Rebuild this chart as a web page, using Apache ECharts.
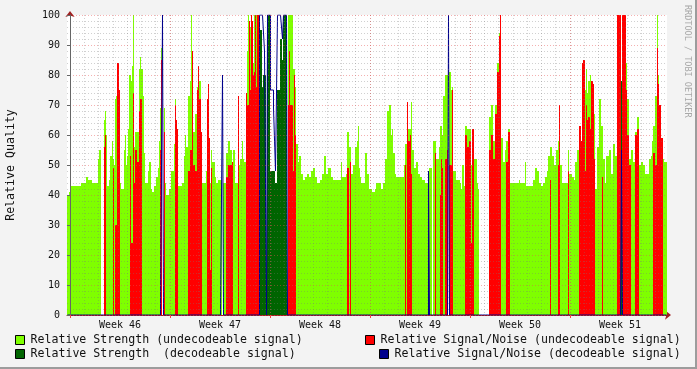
<!DOCTYPE html>
<html><head><meta charset="utf-8">
<script src="https://cdn.jsdelivr.net/npm/echarts@6/dist/echarts.min.js"></script>
<style>html,body{margin:0;padding:0;background:#f3f3f3;}#c{width:697px;height:369px;}</style>
</head><body><div id="c"></div>
<script>
// ---- data (one value per time step; run-length pairs [value, count]) ----
const weekLabels = ['Week 46','Week 47','Week 48','Week 49','Week 50','Week 51'];
const weekStarts = [0,100,200,300,400,500];          // time-axis units (1 unit = 1 step)
const weekMiddles = [50,150,250,350,450,550];
const stepsPerDay = 100/7;
const yTicks = [0,10,20,30,40,50,60,70,80,90,100];
const stepCount = 600;
const firstStepOffset = -3;                           // first step relative to Week 46 start

const strengthUndecodeable = [
[40,2],[41,2],[43,10],[44,5],[46,2],[45,4],[44,6],[52,1],[55,2],[0,3],
[65,1],[68,1],[60,1],[43,2],[45,1],[53,2],[58,1],[52,1],[50,1],[72,1],[73,1],[84,2],[75,1],[44,1],[42,3],
[55,1],[60,1],[50,1],[53,1],[62,1],[80,2],[78,1],[83,1],[100,1],[56,1],[61,4],[82,1],[86,1],[82,2],[73,1],[54,1],
[44,3],[48,1],[51,2],[42,1],[41,2],[43,2],[46,2],[49,1],[58,1],[69,1],[89,1],[0,2],
[69,1],[44,1],[40,3],[42,2],[48,3],[57,1],[72,1],[65,1],[62,1],[43,4],[44,2],[53,1],[60,1],[56,2],[73,2],[78,1],[100,1],[88,1],
[61,2],[67,2],[76,1],[83,1],[78,2],[57,1],[44,4],[48,1],[72,1],[77,1],[59,1],[44,1],[55,1],[51,3],[46,1],[44,2],[45,4],[0,1],
[44,3],[54,2],[58,2],[55,2],[45,1],[55,2],[44,3],[73,1],[50,1],[52,2],[58,1],[52,1],[51,2],[74,1],[88,1],[100,1],[60,1],
[96,1],[100,1],[96,1],[84,1],[100,5],
[0,29],
[100,5],[82,2],[76,1],[57,2],[51,1],[53,2],[47,2],[45,2],[46,2],[47,2],[46,2],[48,2],[49,2],[46,2],[44,3],[45,2],[47,2],[53,2],[47,2],[49,3],[46,2],[45,8],[51,1],[46,4],[47,1],
[61,2],[56,2],[47,2],[50,2],[56,2],[58,1],[63,1],[49,1],[46,1],[44,4],[54,2],[47,2],[42,3],[41,3],[42,1],[44,5],[42,2],[44,2],[52,2],[68,2],[70,2],[60,1],[62,1],[54,2],[47,1],[46,8],[50,1],[57,2],[71,1],[62,3],[71,1],[55,2],[49,2],[51,2],[47,2],[46,2],[45,3],[44,3],
[0,1],[49,3],[0,1],[58,3],[52,3],[56,1],[63,2],[60,1],[73,2],[80,3],[0,1],[81,2],[75,1],[76,1],[48,3],[45,4],[44,1],[42,1],[50,2],[43,1],[63,2],[62,4],[50,1],[52,5],[44,1],[42,1],[0,10],
[66,2],[70,2],[58,2],[70,2],[84,2],[94,2],[59,2],[51,2],[55,1],[58,2],[62,2],[44,9],[45,1],[44,5],[51,1],[43,7],[45,2],[49,2],[48,2],[44,2],[43,2],[44,2],[46,2],[48,1],[53,2],[56,2],[53,2],[50,2],[55,2],[58,2],[50,2],[44,6],[55,1],[47,3],[46,2],[45,1],[51,2],[55,2],[61,2],[58,1],[84,1],[79,2],[75,1],[82,1],[74,1],[78,2],[80,1],[78,2],[67,2],[42,2],[56,2],[72,2],[63,2],[52,2],[44,1],[53,3],[55,2],[47,2],[57,2],[53,2],[100,4],[0,1],[100,4],[84,1],[72,2],[52,2],[55,2],[51,2],[61,2],[66,2],[50,2],[51,2],[50,2],[47,4],[52,2],[53,1],[58,1],[63,2],[73,2],[100,1],[80,1],[70,2],[59,2],[52,1],[51,3]
];
const snrUndecodeable = [
[0,37],[56,1],[60,1],[0,7],[49,1],[0,1],[30,2],[84,2],[75,1],[0,10],[53,1],[24,2],[74,1],[44,1],[55,2],[51,2],[68,1],[72,2],[0,18],[55,1],[85,1],[0,2],[61,1],[0,10],[70,1],[65,1],[62,1],[0,10],[48,2],[55,2],[88,1],[50,2],[48,2],[75,1],[83,1],[72,2],[61,1],[0,5],[72,1],[77,1],[59,1],[15,1],[49,1],[0,14],[46,2],[50,4],[51,1],[0,5],[73,1],[0,7],[74,1],[70,2],[98,1],[75,1],[100,1],[98,1],[80,1],[81,1],[100,1],[76,1],[100,2],[0,29],[70,1],[88,1],[70,3],[48,1],[80,1],[60,1],[0,51],[49,2],[0,1],[51,1],[0,54],[50,1],[0,1],[71,1],[58,2],[60,1],[47,1],[0,23],[54,1],[0,4],[40,1],[52,1],[49,1],[0,2],[52,2],[55,1],[0,1],[50,3],[75,1],[0,12],[60,2],[56,2],[58,2],[24,1],[62,2],[0,15],[55,2],[60,2],[52,2],[67,2],[81,2],[93,1],[100,1],[0,5],[51,2],[61,2],[0,40],[45,1],[0,7],[50,1],[70,1],[0,8],[48,1],[0,10],[63,2],[58,1],[84,1],[85,2],[48,1],[70,1],[65,1],[66,2],[62,1],[78,2],[77,1],[52,1],[0,7],[46,1],[0,14],[100,4],[0,1],[100,4],[75,1],[60,2],[50,2],[0,4],[60,2],[62,2],[0,14],[54,2],[50,2],[89,1],[77,1],[70,2],[59,2],[0,4]
];
const strengthDecodeable = [
[0,192],[47,1],[95,2],[76,1],[80,3],[0,1],[100,3],[48,5],[44,2],[75,3],[92,2],[85,1],[100,4],[0,334],[78,1],[0,45]
];
const snrDecodeable = [
[0,95],[100,1],[0,59],[80,1],[0,36],[100,5],[88,2],[0,1],[100,3],[75,3],[69,2],[48,2],[100,5],[92,1],[100,4],[0,141],[48,1],[0,19],[100,1],[0,172],[55,1],[0,45]
];

const names = [
  'Relative Strength (undecodeable signal)',
  'Relative Signal/Noise (undecodeable signal)',
  'Relative Strength  (decodeable signal)',
  'Relative Signal/Noise (decodeable signal)'
];
const colors = ['#7fff00','#ff0000','#006400','#00008c'];

function expand(rle){
  const out = [];
  rle.forEach(([v,n]) => { for (let i=0;i<n;i++) out.push(v); });
  while (out.length < stepCount) out.push(0);
  return out.slice(0, stepCount);
}
const steps = Array.from({length: stepCount}, (_, i) => i);
const dayValues = [];
for (let k = 0; k * stepsPerDay <= stepCount + firstStepOffset; k++) dayValues.push(k * stepsPerDay);

const chart = echarts.init(document.getElementById('c'), null, {renderer: 'canvas'});
const mono = 'DejaVu Sans Mono';
const minMax = {min: firstStepOffset, max: stepCount + firstStepOffset};

function barSeries(i, data){
  return {name: names[i], type: 'bar', xAxisIndex: 0, yAxisIndex: 0, data: data,
    barWidth: '100%', barGap: '-100%', barCategoryGap: 0,
    itemStyle: {color: colors[i]}, emphasis: {disabled: true}, z: 2};
}
function legendAt(i, left, top){
  return {show: true, left: left, top: top, padding: 0, itemWidth: 9, itemHeight: 9, itemGap: 0,
    selectedMode: false, icon: 'rect',
    data: [{name: names[i], icon: 'rect', itemStyle: {color: colors[i], borderColor: '#000', borderWidth: 1}}],
    textStyle: {fontFamily: mono, fontSize: 11.6, color: '#111', padding: [0,0,0,1]}};
}

chart.setOption({
  animation: false,
  backgroundColor: '#f3f3f3',
  grid: {left: 67, right: 30, top: 15, bottom: 54, show: true, backgroundColor: '#ffffff', borderWidth: 0, outerBoundsMode: 'none', containLabel: false},
  xAxis: [
    {type: 'category', data: steps, show: false, boundaryGap: true},
    Object.assign({type: 'value', z: 3, position: 'bottom',
      axisLine: {show: false},
      axisTick: {show: true, customValues: weekStarts, length: 3, lineStyle: {color: '#ff4040', width: 1}},
      axisLabel: {show: true, customValues: weekMiddles, margin: 5, fontFamily: mono, fontSize: 10, color: '#111',
        formatter: v => weekLabels[Math.round((v - 50) / 100)] || ''},
      splitLine: {show: true, lineStyle: {color: 'rgba(230,80,80,0.45)', type: [1,2], width: 1}}}, minMax),
    Object.assign({type: 'value', z: 2.5, position: 'bottom',
      axisLine: {show: false}, axisLabel: {show: false},
      axisTick: {show: false, customValues: dayValues},
      splitLine: {show: true, lineStyle: {color: 'rgba(120,120,120,0.35)', type: [1,2], width: 1}}}, minMax),
    Object.assign({type: 'value', z: 1, position: 'bottom',
      axisLine: {show: true, symbol: ['none','arrow'], symbolSize: [7,6], symbolOffset: [0,4], lineStyle: {color: '#a02020', width: 1}},
      axisLabel: {show: false}, axisTick: {show: false}, splitLine: {show: false}}, minMax)
  ],
  yAxis: [
    {type: 'value', min: 0, max: 100, interval: 10, z: 3,
      name: 'Relative Quality', nameLocation: 'middle', nameRotate: 90, nameGap: 50,
      nameTextStyle: {fontFamily: mono, fontSize: 11.6, color: '#111'},
      axisLine: {show: true, lineStyle: {color: '#666', width: 1}},
      axisTick: {show: true, length: 3, lineStyle: {color: '#666'}},
      axisLabel: {show: true, margin: 7, fontFamily: mono, fontSize: 10, color: '#111'},
      splitLine: {show: true, lineStyle: {color: 'rgba(230,80,80,0.45)', type: [1,2], width: 1}},
      minorTick: {show: false, splitNumber: 5},
      minorSplitLine: {show: true, lineStyle: {color: 'rgba(120,120,120,0.35)', type: [1,2], width: 1}}},
    {type: 'value', min: 0, max: 100, z: 1,
      axisLine: {show: true, symbol: ['none','arrow'], symbolSize: [7,6], symbolOffset: [0,4], lineStyle: {color: '#a02020', width: 1}},
      axisLabel: {show: false}, axisTick: {show: false}, splitLine: {show: false}}
  ],
  legend: [
    legendAt(0, 15, 334),
    legendAt(1, 365, 334),
    legendAt(2, 15, 348),
    legendAt(3, 379, 348)
  ],
  graphic: [
    {type: 'rect', shape: {x: 695, y: 0, width: 2, height: 369}, style: {fill: '#9c9c9c'}, silent: true},
    {type: 'rect', shape: {x: 0, y: 367, width: 697, height: 2}, style: {fill: '#9c9c9c'}, silent: true},
    {type: 'text', x: 687, y: 5, rotation: -Math.PI/2, silent: true,
      style: {text: 'RRDTOOL / TOBI OETIKER', fontFamily: mono, fontSize: 8.5, fill: '#a8a8a8', align: 'left', verticalAlign: 'middle'}}
  ],
  series: [
    barSeries(0, expand(strengthUndecodeable)),
    barSeries(1, expand(snrUndecodeable)),
    barSeries(2, expand(strengthDecodeable)),
    {name: names[3], type: 'line', xAxisIndex: 0, yAxisIndex: 0, data: expand(snrDecodeable),
      step: 'end', symbol: 'none', showSymbol: false, lineStyle: {color: colors[3], width: 1},
      itemStyle: {color: colors[3]}, emphasis: {disabled: true}, z: 2.2}
  ]
});
</script></body></html>
